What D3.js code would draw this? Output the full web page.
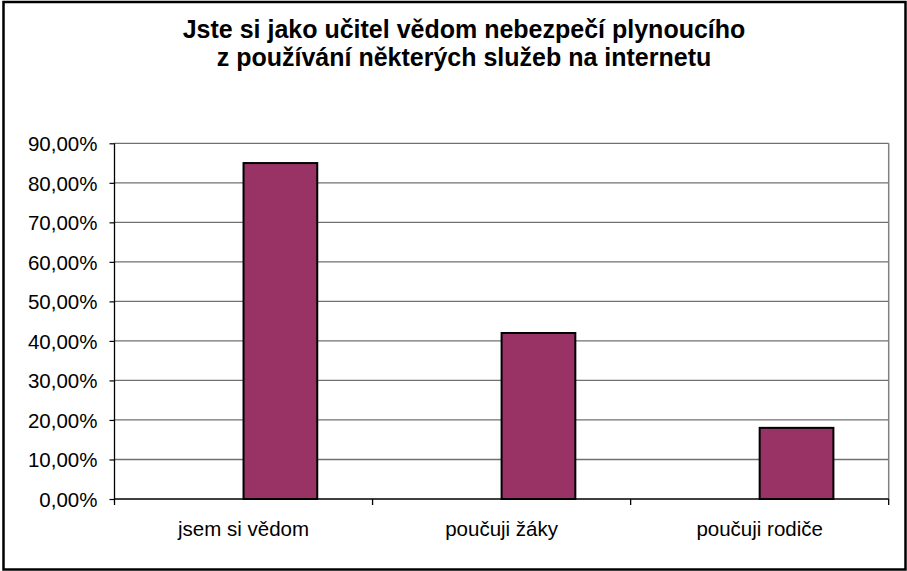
<!DOCTYPE html>
<html>
<head>
<meta charset="utf-8">
<script src="https://cdn.jsdelivr.net/npm/d3@7"></script>
<style>
  body { margin: 0; background: #fff; }
  text { font-family: "Liberation Sans", Arial, sans-serif; fill: #000; }
</style>
</head>
<body>
<div id="chart"></div>
<script>
// chart data
var categories = ["jsem si vědom", "poučuji žáky", "poučuji rodiče"];
var values = [0.85, 0.42, 0.18];
var yTicks = [0, 0.1, 0.2, 0.3, 0.4, 0.5, 0.6, 0.7, 0.8, 0.9];
var titleLines = ["Jste si jako učitel vědom nebezpečí plynoucího", "z používání některých služeb na internetu"];

var svgWidth = 907;
var svgHeight = 571;

var margin = {
  top: 143.3,
  right: 18.3,
  bottom: 72,
  left: 114.5
};

var chartWidth = svgWidth - margin.left - margin.right;
var chartHeight = svgHeight - margin.top - margin.bottom;

var svg = d3.select("#chart")
  .append("svg")
  .attr("width", svgWidth)
  .attr("height", svgHeight);

// outer frame
svg.append("rect")
  .attr("x", 3.5)
  .attr("y", 2)
  .attr("width", 902)
  .attr("height", 567.5)
  .attr("fill", "#fff")
  .attr("stroke", "#000")
  .attr("stroke-width", 2.5);

// title
svg.append("text")
  .attr("text-anchor", "middle")
  .style("font-weight", "bold")
  .style("font-size", "25px")
  .selectAll("tspan")
  .data(titleLines)
  .enter()
  .append("tspan")
  .attr("x", 464)
  .attr("y", (d, i) => 37.5 + i * 28)
  .text(d => d);

var chartGroup = svg.append("g")
  .attr("transform", `translate(${margin.left}, ${margin.top})`);

var x0 = d3.scaleBand()
  .domain(categories)
  .range([0, chartWidth])
  .padding(0);

// two slots per category (the first series is empty in the original), gap width 150%
var x1 = d3.scaleBand()
  .domain([0, 1])
  .range([0, x0.bandwidth()])
  .paddingInner(0)
  .paddingOuter(0.75);

var y = d3.scaleLinear()
  .domain([0, 0.9])
  .range([chartHeight, 0]);

// gridlines
chartGroup.append("g")
  .selectAll("line")
  .data(yTicks.slice(1))
  .enter()
  .append("line")
  .attr("x1", 0)
  .attr("x2", chartWidth)
  .attr("y1", d => y(d))
  .attr("y2", d => y(d))
  .attr("stroke", "#707070")
  .attr("stroke-width", 1.3);

// plot area border (right side)
chartGroup.append("line")
  .attr("x1", chartWidth)
  .attr("x2", chartWidth)
  .attr("y1", 0)
  .attr("y2", chartHeight)
  .attr("stroke", "#808080")
  .attr("stroke-width", 1.5);

// bars
chartGroup.append("g")
  .selectAll("rect")
  .data(values)
  .enter()
  .append("rect")
  .attr("x", (d, i) => x0(categories[i]) + x1(1))
  .attr("y", d => y(d))
  .attr("width", x1.bandwidth())
  .attr("height", d => chartHeight - y(d))
  .attr("fill", "#993366")
  .attr("stroke", "#000")
  .attr("stroke-width", 2);

// y axis
var leftAxis = d3.axisLeft(y)
  .tickValues(yTicks)
  .tickSize(5)
  .tickPadding(12)
  .tickFormat(d => d3.format(".2f")(d * 100).replace(".", ",") + "%");

var yAxis = chartGroup.append("g")
  .call(leftAxis);
yAxis.select(".domain").remove();
yAxis.selectAll(".tick line").attr("stroke", "#000").attr("stroke-width", 1.2);
yAxis.selectAll("text").style("font-size", "20.5px").attr("dy", "0.35em");

chartGroup.append("line")
  .attr("x1", 0)
  .attr("x2", 0)
  .attr("y1", 0)
  .attr("y2", chartHeight + 6)
  .attr("stroke", "#000")
  .attr("stroke-width", 1.3);

// x axis: ticks on category boundaries
chartGroup.append("line")
  .attr("x1", 0)
  .attr("x2", chartWidth)
  .attr("y1", chartHeight)
  .attr("y2", chartHeight)
  .attr("stroke", "#000")
  .attr("stroke-width", 1.3);

chartGroup.append("g")
  .selectAll("line")
  .data(categories)
  .enter()
  .append("line")
  .attr("x1", d => x0(d) + x0.bandwidth())
  .attr("x2", d => x0(d) + x0.bandwidth())
  .attr("y1", chartHeight)
  .attr("y2", chartHeight + 6)
  .attr("stroke", "#000")
  .attr("stroke-width", 1.3);

chartGroup.append("g")
  .selectAll("text")
  .data(categories)
  .enter()
  .append("text")
  .attr("x", d => x0(d) + x0.bandwidth() / 2)
  .attr("y", chartHeight + 37.5)
  .attr("text-anchor", "middle")
  .style("font-size", "20.5px")
  .text(d => d);
</script>
</body>
</html>
